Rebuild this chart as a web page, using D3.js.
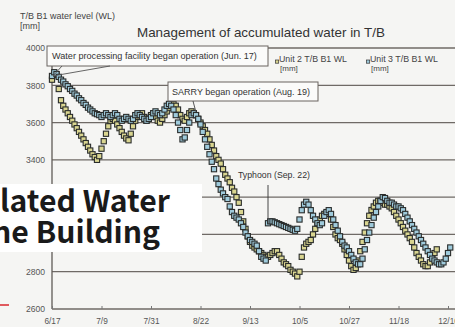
<!DOCTYPE html>
<html>
<head>
<meta charset="utf-8">
<script src="https://cdn.jsdelivr.net/npm/d3@7"></script>
<style>
  html, body { margin: 0; padding: 0; background: #f5f5f3; }
  svg { display: block; }
</style>
</head>
<body>
<svg id="chart" width="455" height="327"></svg>
<script>
// Daily readings start on this date (one value per day)
const startDate = new Date(2011, 5, 17);

// Axis ticks
const yTickValues = [2600, 2800, 3000, 3200, 3400, 3600, 3800, 4000];
// labels hidden behind the slide heading are left out
const yTickLabelled = [2600, 2800, 3400, 3600, 3800, 4000];
const xTickLabels = ["6/17", "7/9", "7/31", "8/22", "9/13", "10/5", "10/27", "11/18", "12/10"];

// Legend entries
const seriesNames = ["Unit 2 T/B B1 WL", "Unit 3 T/B B1 WL"];

// Unit 2 turbine building B1 water level [mm], daily from 6/17
const unit2Level = [
  3830, 3855, 3860, 3780, 3720, 3690, 3670, 3650, 3630, 3610,
  3590, 3570, 3550, 3530, 3510, 3490, 3470, 3450, 3430, 3415,
  3400, 3420, 3460, 3500, 3540, 3580, 3610, 3620, 3610, 3590,
  3570, 3550, 3530, 3515, 3505, 3540, 3580, 3610, 3630, 3640,
  3650, 3630, 3610, 3620, 3640, 3650, 3630, 3610, 3600, 3620,
  3640, 3660, 3680, 3690, 3700, 3690, 3670, 3640, 3620, 3610,
  3630, 3650, 3660, 3650, 3640, 3620, 3600, 3580, 3560, 3540,
  3510, 3480, 3450, 3420, 3400, 3380, 3350, 3320, 3300, 3280,
  3250, 3230, 3200, 3170, 3120, 3070, 3030, 2990, 2960, 2940,
  2930, 2920, 2910, 2900, 2890, 2880, 2880, 2890, 2900, 2910,
  2910, 2890, 2870, 2850, 2840, 2830, 2810, 2800, 2790, 2775,
  2800, 2880, 2930, 2950, 2960, 2970, 3000, 3030, 3060, 3080,
  3100, 3110, 3115, 3110, 3080, 3040, 3000, 2980, 2970, 2950,
  2920, 2890, 2860, 2830, 2810, 2820, 2860, 2910, 2960, 3010,
  3060, 3100, 3131, 3150, 3170, 3180, 3180, 3170, 3160, 3160,
  3150, 3140, 3120, 3100, 3080, 3060, 3040, 3020, 3000, 2980,
  2960, 2930, 2900, 2880, 2860, 2840, 2830, 2830, 2850, 2880,
  2900, 2920
];

// Unit 3 turbine building B1 water level [mm], daily from 6/17
const unit3Level = [
  3850, 3870, 3860, 3845, 3830, 3820, 3805, 3795, 3780, 3770,
  3755, 3745, 3730, 3720, 3705, 3695, 3680, 3670, 3660, 3650,
  3645, 3640, 3630, 3640, 3650, 3640, 3630, 3640, 3650, 3640,
  3620, 3610, 3620, 3630, 3620, 3610, 3620, 3640, 3650, 3640,
  3630, 3620, 3610, 3620, 3630, 3650, 3660, 3650, 3640, 3650,
  3670, 3690, 3700, 3690, 3670, 3640, 3600, 3560, 3510, 3520,
  3560, 3600, 3640, 3650, 3640, 3620, 3590, 3550, 3510, 3470,
  3430, 3390, 3350, 3300, 3270, 3240, 3220, 3200, 3190, 3150,
  3120, 3100, 3090, 3080, 3060, 3040, 3010, 2990, 2970, 2960,
  2950, 2940, 2910, 2880, 2870, 2860, 3060, 3070, 3070, 3065,
  3060, 3055, 3050, 3045, 3040, 3035, 3030, 3025, 3020, 3030,
  3080, 3130, 3160, 3175, 3160, 3130, 3100, 3080, 3060, 3050,
  3060, 3100, 3120, 3130, 3110, 3080, 3050, 3020, 2990, 2960,
  2940, 2930, 2910, 2890, 2870, 2850, 2840, 2840, 2870, 2920,
  2970, 3010, 3050, 3090, 3120, 3150, 3180, 3200, 3195, 3180,
  3170, 3170, 3160, 3150, 3150, 3140, 3130, 3110, 3090, 3070,
  3050, 3030, 3010, 2990, 2970, 2950, 2930, 2910, 2890, 2870,
  2860, 2850, 2840, 2840, 2850, 2870, 2900, 2930
];

// Slide heading text (cut off by the slide's left edge)
const headingLines = ["lated Water", "he Building"];

const dayMs = 24 * 3600 * 1000;
const dateOf = i => new Date(startDate.getTime() + i * dayMs);
const parseTick = s => { const [m, d] = s.split("/").map(Number); return new Date(2011, m - 1, d); };

const svg = d3.select("#chart");
const font = "'Liberation Sans', Arial, sans-serif";

// Scales
const x = d3.scaleTime()
  .domain([startDate, parseTick("12/10")])
  .range([52, 448]);
const y = d3.scaleLinear()
  .domain([2600, 4000])
  .range([309, 48]);

// Shrink or grow a text element's font so it spans the given width
function fitWidth(sel, width) {
  const node = sel.node();
  const fs = parseFloat(sel.attr("font-size"));
  const w = node.getComputedTextLength();
  if (w > 0) sel.attr("font-size", (fs * width / w).toFixed(2));
  return sel;
}

// Horizontal grid lines at every y tick
svg.append("g")
  .selectAll("line")
  .data(yTickValues)
  .join("line")
  .attr("x1", 52).attr("x2", 455)
  .attr("y1", d => y(d)).attr("y2", d => y(d))
  .attr("stroke", "#6f6a66")
  .attr("stroke-width", 1.3);

// Y axis labels
const yAxis = svg.append("g")
  .attr("transform", "translate(52,0)")
  .call(d3.axisLeft(y).tickValues(yTickLabelled).tickSize(0).tickPadding(7).tickFormat(d3.format("d")));
yAxis.select(".domain").remove();
yAxis.selectAll("text")
  .attr("font-family", font)
  .attr("font-size", 8.6)
  .attr("fill", "#555");

svg.append("line")
  .attr("x1", 52).attr("x2", 52)
  .attr("y1", y(4000)).attr("y2", y(2600))
  .attr("stroke", "#5f5a56")
  .attr("stroke-width", 1.3);

// X axis with inward ticks
const xAxis = svg.append("g")
  .attr("transform", `translate(0,${y(2600)})`)
  .call(d3.axisBottom(x)
    .tickValues(xTickLabels.map(parseTick))
    .tickSizeInner(-3).tickSizeOuter(0).tickPadding(9)
    .tickFormat(d3.timeFormat("%-m/%-d")));
xAxis.select(".domain").remove();
xAxis.selectAll(".tick line").attr("stroke", "#777");
xAxis.selectAll("text")
  .attr("font-family", font)
  .attr("font-size", 8.3)
  .attr("fill", "#555");

// Data markers: overlapping dark-edged squares
const plot = svg.append("g");
const seriesList = [
  { values: unit2Level, fill: "#d9d590" },
  { values: unit3Level, fill: "#9fcbdc" }
];
const ms = 5.2;
seriesList.forEach(s => {
  plot.append("g")
    .selectAll("rect")
    .data(s.values)
    .join("rect")
    .attr("x", (d, i) => x(dateOf(i)) - ms / 2)
    .attr("y", d => y(d) - ms / 2)
    .attr("width", ms).attr("height", ms)
    .attr("fill", s.fill)
    .attr("stroke", "#2a2d2c")
    .attr("stroke-width", 1.1);
});

// Title and axis caption
fitWidth(svg.append("text")
  .attr("x", 137).attr("y", 37)
  .attr("font-family", font).attr("font-size", 13)
  .attr("fill", "#333")
  .text("Management of accumulated water in T/B"), 248);

fitWidth(svg.append("text")
  .attr("x", 20).attr("y", 19)
  .attr("font-family", font).attr("font-size", 9)
  .attr("fill", "#444")
  .text("T/B B1 water level (WL)"), 95);
svg.append("text")
  .attr("x", 20).attr("y", 29)
  .attr("font-family", font).attr("font-size", 9)
  .attr("fill", "#444")
  .text("[mm]");

// Legend
const legendX = [277, 368];
seriesNames.forEach((name, i) => {
  const lg = svg.append("g");
  lg.append("rect")
    .attr("x", legendX[i] - 1.5).attr("y", 60)
    .attr("width", 3.2).attr("height", 3.2)
    .attr("fill", seriesList[i].fill)
    .attr("stroke", "#333").attr("stroke-width", 0.7);
  fitWidth(lg.append("text")
    .attr("x", legendX[i] + 2).attr("y", 62)
    .attr("font-family", font).attr("font-size", 8.5)
    .attr("fill", "#444")
    .text(name), 68);
  lg.append("text")
    .attr("x", legendX[i] + 3).attr("y", 71)
    .attr("font-family", font).attr("font-size", 8)
    .attr("fill", "#444")
    .text("[mm]");
});

// Callouts
const callout = svg.append("g");
callout.append("rect")
  .attr("x", 47).attr("y", 46).attr("width", 221).attr("height", 20)
  .attr("fill", "#fbfbfa").attr("stroke", "#6a6560").attr("stroke-width", 1);
callout.append("path")
  .attr("d", `M62,66 L${x(dateOf(0)) + 1},${y(3850)} L110,66`)
  .attr("fill", "none").attr("stroke", "#555").attr("stroke-width", 0.9);
fitWidth(callout.append("text")
  .attr("x", 52).attr("y", 59)
  .attr("font-family", font).attr("font-size", 8.5)
  .attr("fill", "#333")
  .text("Water processing facility began operation (Jun. 17)"), 205);

callout.append("rect")
  .attr("x", 168).attr("y", 82).attr("width", 150).attr("height", 19)
  .attr("fill", "#fbfbfa").attr("stroke", "#6a6560").attr("stroke-width", 1);
callout.append("path")
  .attr("d", `M193,101 L${x(parseTick("8/19")) + 2},${y(3660)}`)
  .attr("fill", "none").attr("stroke", "#444").attr("stroke-width", 0.9);
fitWidth(callout.append("text")
  .attr("x", 172).attr("y", 94.5)
  .attr("font-family", font).attr("font-size", 8.5)
  .attr("fill", "#333")
  .text("SARRY began operation (Aug. 19)"), 138);

fitWidth(callout.append("text")
  .attr("x", 238).attr("y", 178)
  .attr("font-family", font).attr("font-size", 8.5)
  .attr("fill", "#333")
  .text("Typhoon (Sep. 22)"), 72);
callout.append("line")
  .attr("x1", 268).attr("x2", 268)
  .attr("y1", 185).attr("y2", 224)
  .attr("stroke", "#333").attr("stroke-width", 0.9);

// Slide heading laid over the chart, two lines in one text block
const banner = svg.append("g");
banner.append("rect")
  .attr("x", 0).attr("y", 184).attr("width", 202).attr("height", 68)
  .attr("fill", "#ffffff");
const heading = banner.append("text")
  .attr("font-family", "'Noto Sans CJK JP', 'Noto Sans', sans-serif")
  .attr("font-weight", 700).attr("font-size", 31)
  .attr("fill", "#1a1a1a");
heading.append("tspan").attr("x", 0).attr("y", 212).text(headingLines[0]);
heading.append("tspan").attr("x", -8).attr("y", 243).text(headingLines[1]);
// scale the heading so the first line spans the banner
{
  const t0 = heading.select("tspan").node();
  const w = t0.getComputedTextLength();
  if (w > 0) heading.attr("font-size", (31 * 170 / w).toFixed(2));
}
banner.append("line")
  .attr("x1", 0).attr("x2", 9)
  .attr("y1", 305).attr("y2", 305)
  .attr("stroke", "#d8262c").attr("stroke-width", 1.5);
</script>
</body>
</html>
